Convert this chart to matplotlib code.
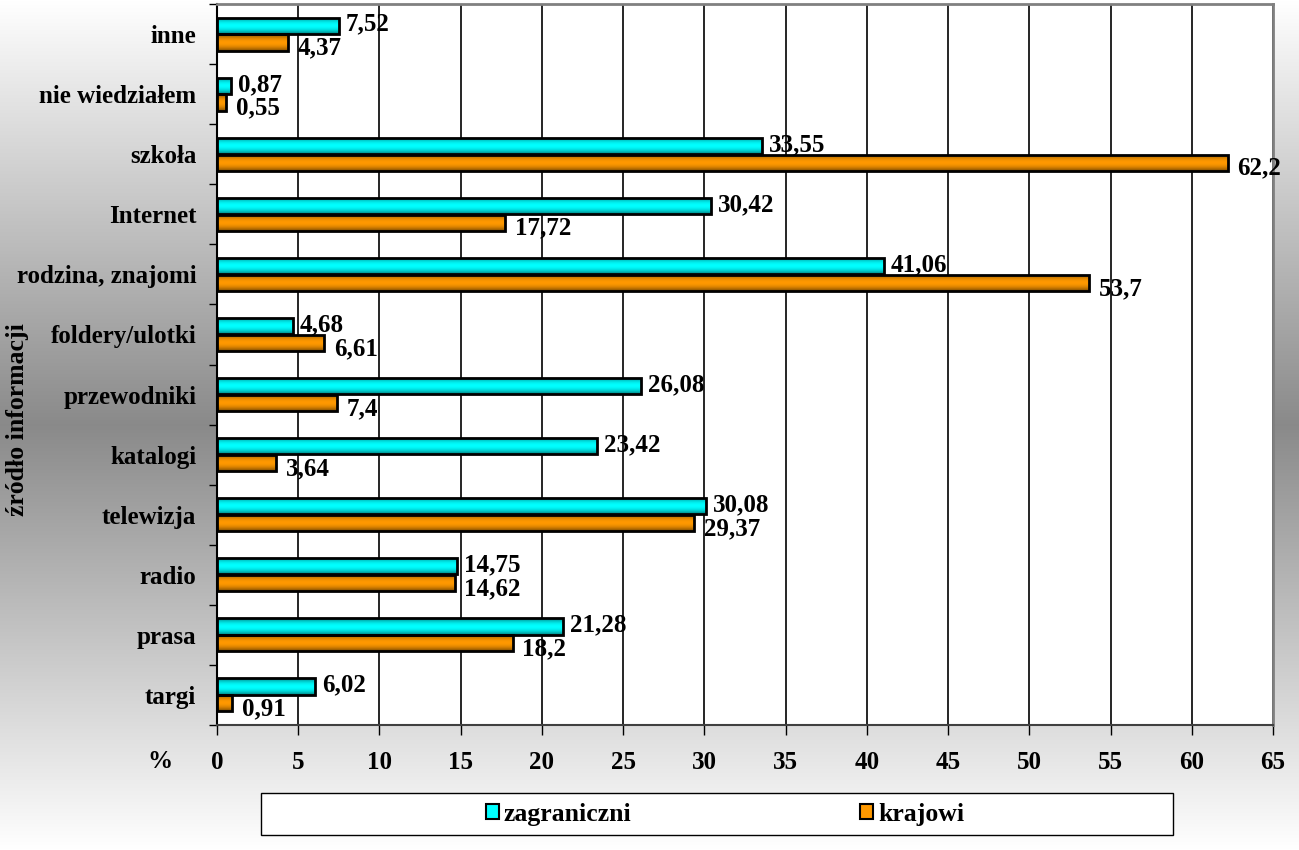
import matplotlib.pyplot as plt
import numpy as np
from matplotlib.patches import Patch, Rectangle
from matplotlib.colors import to_rgb

# data (bottom -> top)
kategorie = ['targi', 'prasa', 'radio', 'telewizja', 'katalogi', 'przewodniki',
             'foldery/ulotki', 'rodzina, znajomi', 'Internet', 'szkoła',
             'nie wiedziałem', 'inne']
zagraniczni = [6.02, 21.28, 14.75, 30.08, 23.42, 26.08, 4.68, 41.06, 30.42, 33.55, 0.87, 7.52]
krajowi = [0.91, 18.2, 14.62, 29.37, 3.64, 7.4, 6.61, 53.7, 17.72, 62.2, 0.55, 4.37]
x_ticks = list(range(0, 70, 5))

plt.rcParams['font.family'] = ['Liberation Serif', 'DejaVu Serif']
plt.rcParams['font.weight'] = 'bold'
FS = 18

fig = plt.figure(figsize=(12.99, 8.5), dpi=100)

# grey vertical gradient behind everything
bg = fig.add_axes([0, 0, 1, 1], zorder=-10)
t = 1 - np.abs(np.linspace(-1, 1, 400))
shade = 1 - 0.46 * t
bg.imshow(np.repeat(np.tile(shade[:, None], (1, 2))[:, :, None], 3, axis=2),
          aspect='auto', extent=[0, 1, 0, 1])
bg.axis('off')

ax = fig.add_axes([217 / 1299, 125 / 850, 1056 / 1299, 721 / 850])
ax.set_facecolor('white')

y = np.arange(len(kategorie))
h = 0.27
off = 0.14


def shaded(col, n=64):
    c = np.array(to_rgb(col))
    s = np.linspace(0, 1, n)
    k = 0.45 + 0.55 * np.sin(np.pi * s) ** 0.8
    return (c[None, :] * k[:, None])[:, None, :]


for vals, dy, col in [(zagraniczni, off, '#00FFFF'), (krajowi, -off, '#FF9900')]:
    bars = ax.barh(y + dy, vals, height=h, color='none', edgecolor='black',
                   linewidth=2, zorder=3)
    img = shaded(col)
    for p in bars:
        x0, y0, w, hh = p.get_x(), p.get_y(), p.get_width(), p.get_height()
        im = ax.imshow(img, extent=[x0, x0 + w, y0, y0 + hh], aspect='auto',
                       zorder=2.5, interpolation='bilinear')
        im.set_clip_path(p)

for i in range(len(kategorie)):
    ax.annotate(f'{zagraniczni[i]:g}'.replace('.', ','), (zagraniczni[i], y[i] + off),
                xytext=(5, 1), textcoords='offset points', va='center', ha='left',
                fontsize=FS, fontweight='bold', zorder=5)
    ax.annotate(f'{krajowi[i]:g}'.replace('.', ','), (krajowi[i], y[i] - off),
                xytext=(7, -4), textcoords='offset points', va='center', ha='left',
                fontsize=FS, fontweight='bold', zorder=5)

ax.set_xlim(0, 65)
ax.set_ylim(-0.5, len(kategorie) - 0.5)
ax.set_xticks(x_ticks)
ax.set_xticklabels([str(v) for v in x_ticks], fontsize=FS, fontweight='bold')
ax.set_yticks(y)
ax.set_yticklabels(kategorie, fontsize=FS, fontweight='bold')
ax.set_yticks(np.arange(-0.5, len(kategorie), 1), minor=True)
ax.tick_params(axis='y', which='major', length=0, pad=15)
ax.tick_params(axis='y', which='minor', length=6, width=1, direction='out')
ax.tick_params(axis='x', length=7, width=1, direction='out', pad=12)
ax.xaxis.grid(True, color='black', linewidth=1.2)
ax.set_axisbelow(True)

ax.spines['left'].set_color('black')
ax.spines['left'].set_linewidth(1.5)
for s in ['top', 'right']:
    ax.spines[s].set_color('#808080')
    ax.spines[s].set_linewidth(2)
ax.spines['bottom'].set_color('#404040')
ax.spines['bottom'].set_linewidth(1.5)

fig.text(18 / 1299, 1 - 420 / 850, 'źródło informacji', rotation=90, ha='center',
         va='center', fontsize=FS + 0.5, fontweight='bold')
fig.text(160 / 1299, 1 - 762 / 850, '%', ha='center', va='center', fontsize=FS,
         fontweight='bold')

# legend
fig.patches.append(Rectangle((261 / 1299, 15 / 850), 912 / 1299, 42 / 850,
                             transform=fig.transFigure, facecolor='white',
                             edgecolor='black', linewidth=1, zorder=1))
handles = [Patch(facecolor='#00FFFF', edgecolor='black', linewidth=1.5, label='zagraniczni'),
           Patch(facecolor='#FF9900', edgecolor='black', linewidth=1.5, label='krajowi')]
fig.legend(handles=handles, ncol=2, loc='center left',
           bbox_to_anchor=(486 / 1299, 1 - 814 / 850), frameon=False,
           borderpad=0, borderaxespad=0, handlelength=0.5, handleheight=0.5,
           handletextpad=0.2, columnspacing=8.9,
           prop={'size': FS + 0.5, 'weight': 'bold'})

fig.savefig('out.png', dpi=100)
